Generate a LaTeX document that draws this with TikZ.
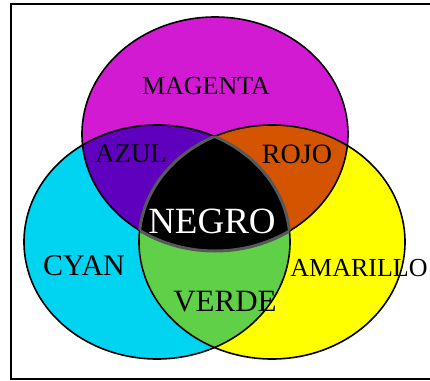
\documentclass[tikz,border=0pt]{standalone}
\usepackage{fontspec}
\setmainfont{Liberation Serif}
\definecolor{magentafill}{RGB}{210,26,210}
\definecolor{cyanfill}{RGB}{0,212,240}
\definecolor{yellowfill}{RGB}{255,255,0}
\definecolor{azulfill}{RGB}{94,0,190}
\definecolor{rojofill}{RGB}{212,84,0}
\definecolor{verdefill}{RGB}{96,208,72}
\definecolor{rim}{RGB}{88,88,88}

\begin{document}
\begin{tikzpicture}[x=1pt, y=-1pt, line width=1.6pt,
  blob/.style={x radius=133, y radius=117},
  lbl/.style={inner sep=0pt, font=\fontsize{#1}{#1}\selectfont}]
  \useasboundingbox (0,0) rectangle (430,380);
  \draw (430,4) -- (11,4) -- (11,379) -- (430,379);

  \coordinate (M) at (215,134);
  \coordinate (C) at (157,242);
  \coordinate (Y) at (272,242);

  % tres colores primarios
  \fill[magentafill] (M) ellipse[blob];
  \fill[cyanfill]    (C) ellipse[blob];
  \fill[yellowfill]  (Y) ellipse[blob];
  % mezclas de dos
  \begin{scope}
    \clip (M) ellipse[blob];
    \fill[azulfill] (C) ellipse[blob];
    \fill[rojofill] (Y) ellipse[blob];
  \end{scope}
  \begin{scope}
    \clip (C) ellipse[blob];
    \fill[verdefill] (Y) ellipse[blob];
  \end{scope}
  \draw (M) ellipse[blob];
  \draw (C) ellipse[blob];
  \draw (Y) ellipse[blob];
  % centro: los tres juntos
  \begin{scope}
    \clip (M) ellipse[blob];
    \clip (C) ellipse[blob];
    \fill[black] (Y) ellipse[blob];
  \end{scope}
  \begin{scope}[rim, line width=3pt]
    \begin{scope}
      \clip (C) ellipse[blob]; \clip (Y) ellipse[blob];
      \draw (M) ellipse[blob];
    \end{scope}
    \begin{scope}
      \clip (M) ellipse[blob]; \clip (Y) ellipse[blob];
      \draw (C) ellipse[blob];
    \end{scope}
    \begin{scope}
      \clip (M) ellipse[blob]; \clip (C) ellipse[blob];
      \draw (Y) ellipse[blob];
    \end{scope}
  \end{scope}

  \node[lbl=26] (magenta)  at (206,86)  {MAGENTA};
  \node[lbl=27] (azul)     at (131,154) {AZUL};
  \node[lbl=28] (rojo)     at (297,154) {ROJO};
  \node[lbl=37, white] (negro) at (212,221) {NEGRO};
  \node[lbl=30] (cyan)     at (84,266)  {CYAN};
  \node[lbl=26] (amarillo) at (359,268) {AMARILLO};
  \node[lbl=31] (verde)    at (225,302) {VERDE};
\end{tikzpicture}
\end{document}
